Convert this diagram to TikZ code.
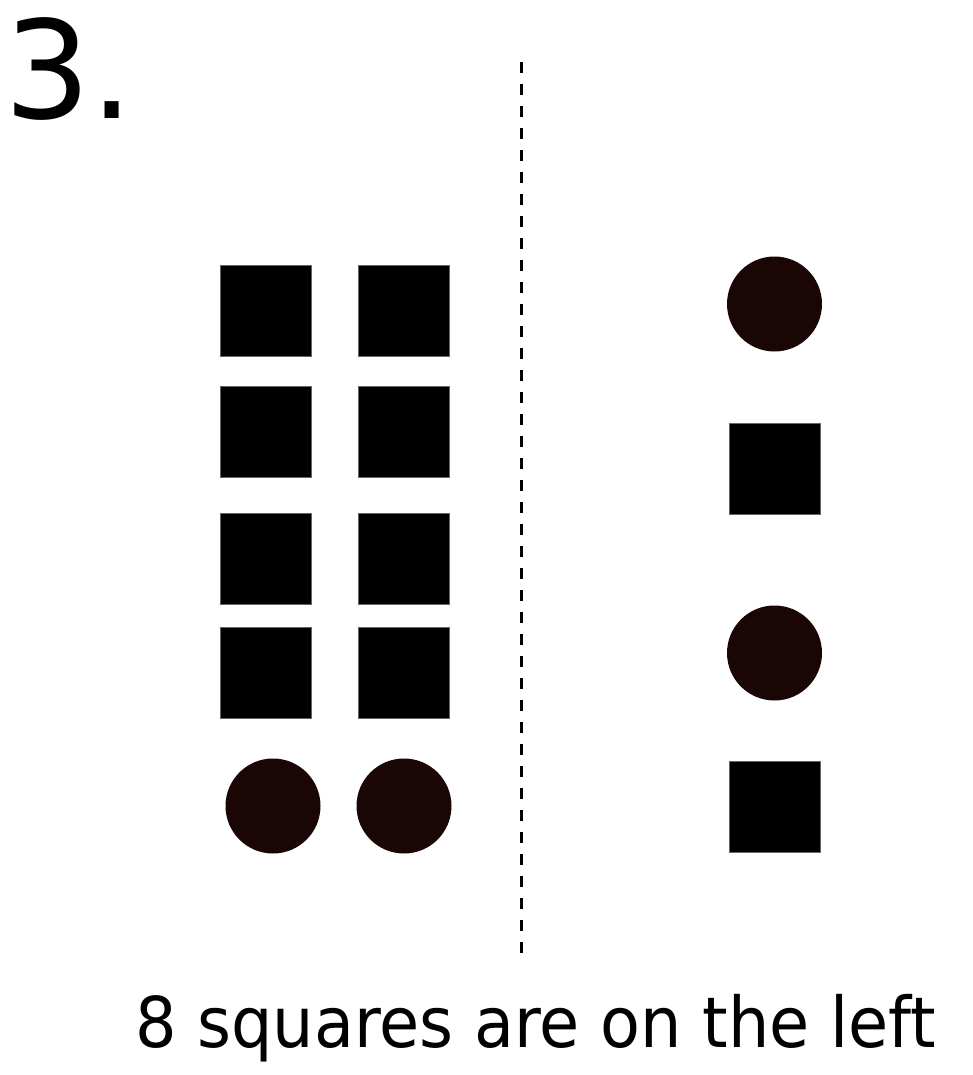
\documentclass[tikz,border=0pt]{standalone}
\usepackage{fontspec}
\setmainfont{DejaVu Sans}
\definecolor{dotbrown}{HTML}{1A0705}
\begin{document}
\begin{tikzpicture}[x=1pt,y=-1pt,
  sq/.style={fill=black,draw=black!60,line width=0.8pt,minimum size=91pt,inner sep=0pt,outer sep=0pt},
  dot/.style={circle,fill=dotbrown,minimum size=95pt,inner sep=0pt,outer sep=0pt},
  divider/.style={line width=3pt,dash pattern=on 11pt off 11pt}]
\useasboundingbox (0,0) rectangle (972,1075);
% title
\node[anchor=base west,inner sep=0pt,font=\fontsize{136}{136}\selectfont] (title) at (4,119) {3.};
% left squares
\node[sq] (l11) at (265.5,311) {};
\node[sq] (l12) at (404,311) {};
\node[sq] (l21) at (265.5,432) {};
\node[sq] (l22) at (404,432) {};
\node[sq] (l31) at (265.5,559) {};
\node[sq] (l32) at (404,559) {};
\node[sq] (l41) at (265.5,673) {};
\node[sq] (l42) at (404,673) {};
% left circles
\node[dot] (lc1) at (273,806) {};
\node[dot] (lc2) at (404,806) {};
% right column
\node[dot] (rc1) at (774.5,304) {};
\node[sq] (rs1) at (774.5,468.5) {};
\node[dot] (rc2) at (774.5,653) {};
\node[sq] (rs2) at (774.5,806.5) {};
% divider
\coordinate (dtop) at (521,62);
\coordinate (dbot) at (521,955);
\draw[divider] (dtop) -- (dbot);
% caption
\node[anchor=base west,inner sep=0pt,font=\fontsize{70}{70}\selectfont] (caption) at (135,1047) {\scalebox{0.932}[1]{8 squares are on the left}};
\end{tikzpicture}
\end{document}
